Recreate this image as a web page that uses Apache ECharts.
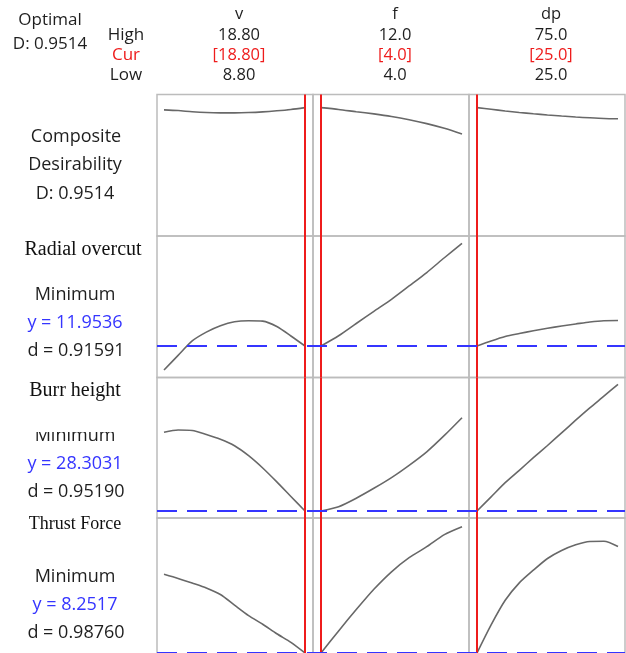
<!DOCTYPE html>
<html>
<head>
<meta charset="utf-8">
<script src="https://cdn.jsdelivr.net/npm/echarts@6/dist/echarts.min.js"></script>
<style>
  html, body { margin: 0; padding: 0; background: #fff; }
  #chart { width: 626px; height: 653px; }
</style>
</head>
<body>
<div id="chart"></div>
<script>
// Factor settings
const factorNames = ['v', 'f', 'dp'];
const factorHigh = ['18.80', '12.0', '75.0'];
const factorCur = ['[18.80]', '[4.0]', '[25.0]'];
const factorLow = ['8.80', '4.0', '25.0'];
const factorLowVal = [8.8, 4.0, 25.0];
const factorHighVal = [18.8, 12.0, 75.0];
const factorCurVal = [18.8, 4.0, 25.0];

// Factor grids along each column
const vValues = [8.8, 9.8, 10.8, 11.8, 12.8, 13.8, 14.8, 15.8, 16.8, 17.8, 18.8];
const fValues = [4, 5, 6, 7, 8, 9, 10, 11, 12];
const dpValues = [25, 30, 35, 40, 45, 50, 55, 60, 65, 70, 75];

// Composite desirability
const desirV = [0.935, 0.930, 0.921, 0.915, 0.913, 0.913, 0.915, 0.920, 0.928, 0.938, 0.9514];
const desirF = [0.9514, 0.938, 0.921, 0.905, 0.886, 0.862, 0.833, 0.798, 0.756];
const desirDp = [0.9514, 0.939, 0.927, 0.916, 0.906, 0.897, 0.889, 0.882, 0.876, 0.871, 0.869];

// Radial overcut
const overcutV = [11.354, 11.720, 12.080, 12.300, 12.460, 12.560, 12.586, 12.575, 12.440, 12.204, 11.9536];
const overcutF = [11.9536, 12.210, 12.516, 12.821, 13.120, 13.454, 13.791, 14.160, 14.521];
const overcutDp = [11.9536, 12.079, 12.191, 12.266, 12.334, 12.396, 12.454, 12.504, 12.554, 12.586, 12.590];

// Burr height
const burrV = [47.978, 48.553, 48.428, 47.428, 46.228, 44.603, 42.128, 39.053, 35.578, 31.928, 28.3031];
const burrF = [28.3031, 29.378, 31.503, 33.978, 36.653, 39.728, 43.103, 47.203, 51.628];
const burrDp = [28.3031, 31.828, 35.378, 38.478, 41.628, 44.678, 47.828, 51.003, 54.078, 57.003, 59.978];

// Thrust force
const thrustV = [16.122, 15.712, 15.242, 14.752, 14.102, 13.042, 11.992, 11.122, 10.172, 9.312, 8.2517];
const thrustF = [8.2517, 10.462, 12.592, 14.622, 16.372, 17.782, 18.882, 20.092, 20.882];
const thrustDp = [8.2517, 11.062, 13.522, 15.262, 16.532, 17.702, 18.502, 19.072, 19.402, 19.422, 18.902];

// Optimum summary
const optimalD = '0.9514';
const responseNames = ['Radial overcut', 'Burr height', 'Thrust Force'];
const responseGoal = ['Minimum', 'Minimum', 'Minimum'];
const responseY = [11.9536, 28.3031, 8.2517];
const responseYText = ['y = 11.9536', 'y = 28.3031', 'y = 8.2517'];
const responseDText = ['d = 0.91591', 'd = 0.95190', 'd = 0.98760'];

// ---- layout ----
const colLeft = [157, 313, 469];
const colWidth = 156;
const rowTop = [94.5, 236, 377.5, 518];
const rowHeight = [141.5, 141.5, 140.5, 141];
// y ranges per row (composite, overcut, burr, thrust)
const rowRange = [[0, 1.0489], [11.1661, 14.7036], [26.5531, 61.6781], [7.6517, 21.7517]];
// x ranges per column with a small inset around low..high
const colRange = factorLowVal.map((lo, i) => {
  const hi = factorHighVal[i];
  const perPx = (hi - lo) / 141;
  const padL = i === 0 ? 7 : 8;
  const padR = i === 0 ? 8 : 7;
  return [lo - padL * perPx, hi + padR * perPx];
});

const xs = [vValues, fValues, dpValues];
const rowsData = [
  [desirV, desirF, desirDp],
  [overcutV, overcutF, overcutDp],
  [burrV, burrF, burrDp],
  [thrustV, thrustF, thrustDp]
];

const grids = [], xAxes = [], yAxes = [], series = [];
const RED = '#ee1c1c';
const BLUE = '#3535ff';

for (let r = 0; r < 4; r++) {
  for (let c = 0; c < 3; c++) {
    const idx = grids.length;
    grids.push({
      left: colLeft[c], top: rowTop[r], width: colWidth, height: rowHeight[r],
      outerBoundsMode: 'none', containLabel: false,
      show: true, borderColor: '#bcbcbc', borderWidth: 1.5, backgroundColor: 'transparent'
    });
    xAxes.push({ type: 'value', gridIndex: idx, min: colRange[c][0], max: colRange[c][1], show: false });
    yAxes.push({ type: 'value', gridIndex: idx, min: rowRange[r][0], max: rowRange[r][1], show: false });
    series.push({
      type: 'line', xAxisIndex: idx, yAxisIndex: idx,
      data: xs[c].map((x, k) => [x, rowsData[r][c][k]]),
      showSymbol: false, smooth: 0.25,
      lineStyle: { color: '#686868', width: 1.6 },
      silent: true, animation: false, z: 3,
      markLine: {
        silent: true, symbol: 'none', animation: false,
        label: { show: false },
        lineStyle: { color: RED, width: 2, type: 'solid' },
        data: [{ xAxis: factorCurVal[c] }]
      }
    });
  }
}

// Full-width rows carrying the dashed optimum lines
for (let r = 1; r < 4; r++) {
  const idx = grids.length;
  grids.push({ left: colLeft[0], top: rowTop[r], width: colWidth * 3, height: rowHeight[r],
               outerBoundsMode: 'none', containLabel: false, show: false });
  xAxes.push({ type: 'value', gridIndex: idx, min: 0, max: 1, show: false });
  yAxes.push({ type: 'value', gridIndex: idx, min: rowRange[r][0], max: rowRange[r][1], show: false });
  series.push({
    type: 'line', xAxisIndex: idx, yAxisIndex: idx, data: [],
    silent: true, animation: false, z: 5,
    markLine: {
      silent: true, symbol: 'none', animation: false,
      label: { show: false },
      lineStyle: { color: BLUE, width: 2, type: [20, 10] },
      data: [{ yAxis: responseY[r - 1] }]
    }
  });
}

// ---- text ----
const SANS = '"Open Sans", "Noto Sans", sans-serif';
const SERIF = '"Liberation Serif", "DejaVu Serif", serif';
const FS_HEAD = 17;
const FS_SIDE = 18;
function txt(x, y, s, color, size, font) {
  return {
    type: 'text', x: x, y: y, silent: true, z: 10,
    style: { text: s, fill: color || '#1e1e1e', font: size + 'px ' + (font || SANS),
             align: 'center', verticalAlign: 'middle' }
  };
}
const graphics = [];
graphics.push(txt(50, 20, 'Optimal', null, FS_HEAD));
graphics.push(txt(50, 44, 'D: ' + optimalD, null, FS_HEAD));
graphics.push(txt(126, 35, 'High', null, FS_HEAD));
graphics.push(txt(126, 55, 'Cur', RED, FS_HEAD));
graphics.push(txt(126, 75, 'Low', null, FS_HEAD));
const headX = [239, 395, 551];
for (let c = 0; c < 3; c++) {
  graphics.push(txt(headX[c], 14, factorNames[c], null, 16.5));
  graphics.push(txt(headX[c], 35, factorHigh[c], null, 16.5));
  graphics.push(txt(headX[c], 55, factorCur[c], RED, 16.5));
  graphics.push(txt(headX[c], 75, factorLow[c], null, 16.5));
}
graphics.push(txt(76, 137, 'Composite', null, FS_SIDE));
graphics.push(txt(75, 165, 'Desirability', null, FS_SIDE));
graphics.push(txt(75, 194, 'D: ' + optimalD, null, FS_SIDE));

const titleY = [250, 391, 524];
const titleSize = [20, 20, 18];
const goalY = [295, 436, 577];
for (let i = 0; i < 3; i++) {
  graphics.push(txt(i === 0 ? 83 : 75, titleY[i], responseNames[i], '#111', titleSize[i], SERIF));
  graphics.push(txt(75, goalY[i], responseGoal[i], null, FS_SIDE));
  graphics.push(txt(75, goalY[i] + 28, responseYText[i], BLUE, FS_SIDE));
  graphics.push(txt(76, goalY[i] + 56, responseDText[i], null, FS_SIDE));
}
// the second goal label is partly covered at its top edge
graphics.push({ type: 'rect', shape: { x: 20, y: 418, width: 120, height: 14 }, style: { fill: '#fff' }, z: 11, silent: true });

const chart = echarts.init(document.getElementById('chart'), null, { renderer: 'canvas' });
chart.setOption({
  animation: false,
  backgroundColor: '#fff',
  grid: grids,
  xAxis: xAxes,
  yAxis: yAxes,
  series: series,
  graphic: graphics
});
</script>
</body>
</html>
